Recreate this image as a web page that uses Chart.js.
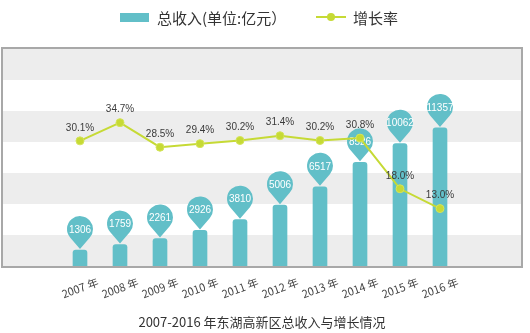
<!DOCTYPE html>
<html lang="zh">
<head>
<meta charset="UTF-8" />
<title>2007-2016 年东湖高新区总收入与增长情况</title>
<script src="https://cdn.jsdelivr.net/npm/chart.js"></script>
<style>
  body { margin: 0; background: #fff; }
  #wrap { position: relative; width: 530px; height: 333px; }
</style>
</head>
<body>
<div id="wrap"><canvas id="chart"></canvas></div>
<script>
const years = ['2007 年', '2008 年', '2009 年', '2010 年', '2011 年', '2012 年', '2013 年', '2014 年', '2015 年', '2016 年'];
const income = [1306, 1759, 2261, 2926, 3810, 5006, 6517, 8526, 10062, 11357];
const growth = [30.1, 34.7, 28.5, 29.4, 30.2, 31.4, 30.2, 30.8, 18.0, 13.0];
const incomeLabel = '总收入(单位:亿元）';
const growthLabel = '增长率';
const chartTitle = '2007-2016 年东湖高新区总收入与增长情况';

const barColor = '#62bfc8';
const lineColor = '#c6da35';
const cjk = '"Noto Sans CJK SC", "Liberation Sans", sans-serif';
const num = '"Liberation Sans", Arial, sans-serif';

// grey/white bands + frame
const bands = {
  id: 'bands',
  beforeDatasetsDraw(chart) {
    const { ctx, chartArea } = chart;
    const y = chart.scales.y;
    const ticks = y.ticks;
    ctx.save();
    for (let i = 0; i < ticks.length - 1; i++) {
      if (i % 2 !== 0) continue;
      const y0 = y.getPixelForValue(ticks[i].value);
      const y1 = y.getPixelForValue(ticks[i + 1].value);
      ctx.fillStyle = '#ededed';
      ctx.fillRect(2, y1, 520, y0 - y1);
    }
    ctx.strokeStyle = '#a8a8a8';
    ctx.lineWidth = 2;
    ctx.strokeRect(2, chartArea.top - 1, 520, chartArea.bottom - chartArea.top + 2);
    ctx.restore();
  }
};

// map-pin markers with the value above each bar
const pins = {
  id: 'pins',
  afterDatasetDraw(chart, args) {
    if (chart.data.datasets[args.index].type !== 'bar') return;
    const { ctx } = chart;
    const r = 13, d = 20;
    const a = Math.acos(r / d);
    ctx.save();
    args.meta.data.forEach((bar, i) => {
      const tipY = bar.y - 1;
      const cx = bar.x, cy = tipY - d;
      ctx.beginPath();
      ctx.arc(cx, cy, r, Math.PI / 2 + a, Math.PI / 2 - a);
      ctx.lineTo(cx, tipY);
      ctx.closePath();
      ctx.fillStyle = barColor;
      ctx.fill();
      ctx.fillStyle = '#fff';
      ctx.font = '10px ' + num;
      ctx.textAlign = 'center';
      ctx.textBaseline = 'middle';
      ctx.fillText(income[i], cx, cy + 1);
    });
    ctx.restore();
  }
};

// growth labels, x labels, legend and caption
const texts = {
  id: 'texts',
  afterDraw(chart) {
    const { ctx, chartArea } = chart;
    const x = chart.scales.x;
    ctx.save();
    // growth labels
    const lineMeta = chart.getDatasetMeta(0);
    ctx.font = '10px ' + num;
    ctx.fillStyle = '#3a3a3a';
    ctx.textAlign = 'center';
    ctx.textBaseline = 'middle';
    lineMeta.data.forEach((pt, i) => {
      ctx.fillText(growth[i].toFixed(1) + '%', pt.x, pt.y - 13);
    });
    // rotated year labels
    ctx.font = '11px ' + cjk;
    ctx.fillStyle = '#444';
    years.forEach((lab, i) => {
      const px = x.getPixelForValue(i);
      ctx.save();
      ctx.translate(px, chartArea.bottom + 22);
      ctx.rotate(-20 * Math.PI / 180);
      ctx.fillText(lab, 0, 0);
      ctx.restore();
    });
    // legend
    ctx.fillStyle = barColor;
    ctx.fillRect(120, 13, 29, 9);
    ctx.font = '15px ' + cjk;
    ctx.fillStyle = '#333';
    ctx.textAlign = 'left';
    ctx.fillText(incomeLabel, 157, 18);
    ctx.strokeStyle = lineColor;
    ctx.lineWidth = 2;
    ctx.beginPath();
    ctx.moveTo(316, 17);
    ctx.lineTo(346, 17);
    ctx.stroke();
    ctx.beginPath();
    ctx.arc(331, 17, 4, 0, Math.PI * 2);
    ctx.fillStyle = lineColor;
    ctx.fill();
    ctx.fillStyle = '#333';
    ctx.fillText(growthLabel, 353, 18);
    // caption
    ctx.font = '13px ' + cjk;
    ctx.textAlign = 'center';
    ctx.fillStyle = '#333';
    ctx.fillText(chartTitle, 262, 322);
    ctx.restore();
  }
};

new Chart(document.getElementById('chart'), {
  data: {
    labels: years,
    datasets: [
      {
        type: 'line',
        label: growthLabel,
        data: growth,
        yAxisID: 'y1',
        borderColor: lineColor,
        backgroundColor: lineColor,
        borderWidth: 2,
        pointRadius: 4,
        pointBorderWidth: 1,
        pointBorderColor: '#d4e45a',
        tension: 0
      },
      {
        type: 'bar',
        label: incomeLabel,
        data: income,
        yAxisID: 'y',
        backgroundColor: barColor,
        barThickness: 14,
        borderRadius: { topLeft: 3, topRight: 3 },
        borderSkipped: 'bottom'
      }
    ]
  },
  options: {
    responsive: true,
    maintainAspectRatio: false,
    animation: false,
    layout: { padding: { top: 49, bottom: 67, left: 60, right: 70 } },
    plugins: {
      legend: { display: false },
      tooltip: { enabled: false }
    },
    scales: {
      x: { display: false, offset: true, grid: { display: false } },
      y: { display: false, min: 0, max: 17850, ticks: { stepSize: 2550 } },
      y1: { display: false, min: -1.5, max: 53.3 }
    }
  },
  plugins: [bands, pins, texts]
});
</script>
</body>
</html>
